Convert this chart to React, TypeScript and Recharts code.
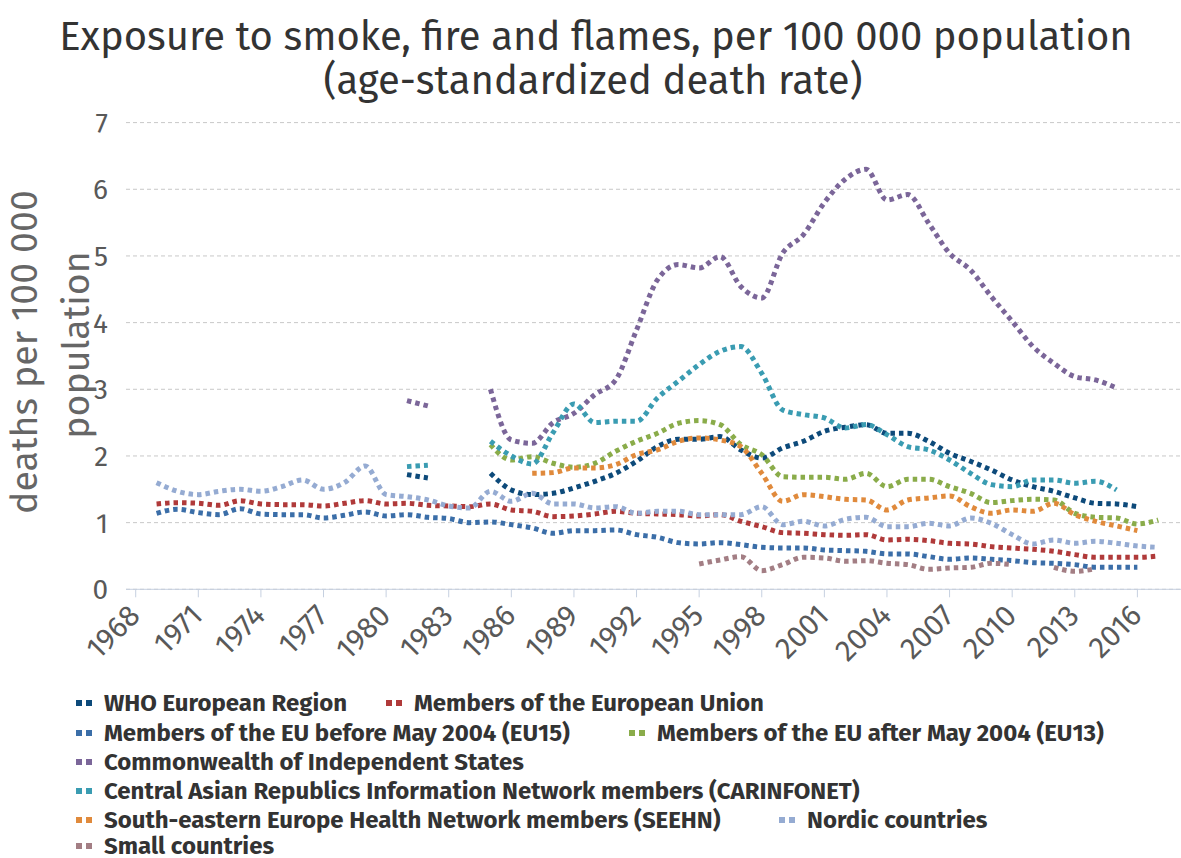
import React from "react";
import { LineChart, Line, XAxis, YAxis, CartesianGrid } from "recharts";

// years 1969..2017
const years = [
  1969, 1970, 1971, 1972, 1973, 1974, 1975, 1976, 1977, 1978, 1979, 1980,
  1981, 1982, 1983, 1984, 1985, 1986, 1987, 1988, 1989, 1990, 1991, 1992,
  1993, 1994, 1995, 1996, 1997, 1998, 1999, 2000, 2001, 2002, 2003, 2004,
  2005, 2006, 2007, 2008, 2009, 2010, 2011, 2012, 2013, 2014, 2015, 2016, 2017,
];

const xTicks = [1968, 1971, 1974, 1977, 1980, 1983, 1986, 1989, 1992, 1995, 1998, 2001, 2004, 2007, 2010, 2013, 2016];
const yTicks = [0, 1, 2, 3, 4, 5, 6, 7];

const _ = null;

const who = [
  _, _, _, _, _, _, _, _, _, _, _, _,
  1.72, 1.67, _, _,
  1.74, 1.49, 1.42, 1.44, 1.52, 1.62, 1.74, 1.92, 2.14, 2.25, 2.25, 2.29, 2.09, 1.97, 2.12, 2.22,
  2.37, 2.43, 2.47, 2.34, 2.34, 2.22, 2.04, 1.92, 1.79, 1.64, 1.54, 1.47, 1.37, 1.29, 1.28, 1.24, _,
];

const eu = [
  1.28, 1.3, 1.29, 1.26, 1.33, 1.28, 1.27, 1.27, 1.25, 1.29, 1.33, 1.28, 1.29, 1.26, 1.25, 1.24, 1.28,
  1.19, 1.17, 1.09, 1.1, 1.13, 1.17, 1.14, 1.13, 1.12, 1.1, 1.12, 1.02, 0.94, 0.85, 0.84, 0.82,
  0.81, 0.82, 0.74, 0.75, 0.73, 0.69, 0.68, 0.64, 0.62, 0.6, 0.57, 0.52, 0.48, 0.48, 0.48, 0.5,
];

const eu15 = [
  1.14, 1.2, 1.15, 1.12, 1.21, 1.13, 1.12, 1.12, 1.07, 1.11, 1.16, 1.1, 1.12, 1.08, 1.06, 1.0, 1.01,
  0.97, 0.92, 0.84, 0.88, 0.88, 0.89, 0.82, 0.78, 0.7, 0.68, 0.7, 0.67, 0.63, 0.62, 0.62, 0.59,
  0.58, 0.57, 0.53, 0.53, 0.49, 0.45, 0.47, 0.45, 0.43, 0.4, 0.39, 0.37, 0.33, 0.33, 0.33, _,
];

const eu13 = [
  _, _, _, _, _, _, _, _, _, _, _, _, _, _, _, _,
  2.17, 1.94, 1.99, 1.89, 1.83, 1.89, 2.07, 2.22, 2.34, 2.49, 2.53, 2.47, 2.17, 2.02, 1.69, 1.68,
  1.68, 1.65, 1.74, 1.54, 1.65, 1.65, 1.54, 1.44, 1.3, 1.33, 1.35, 1.34, 1.14, 1.08, 1.07, 0.98, 1.04,
];

const cis = [
  _, _, _, _, _, _, _, _, _, _, _, _,
  2.83, 2.75, _, _,
  3.0, 2.24, 2.19, 2.5, 2.64, 2.92, 3.14, 3.89, 4.64, 4.87, 4.82, 4.99, 4.54, 4.37, 5.04, 5.32,
  5.8, 6.15, 6.3, 5.84, 5.92, 5.49, 5.04, 4.79, 4.39, 4.02, 3.64, 3.39, 3.19, 3.14, 3.02, _, _,
];

const carinfonet = [
  _, _, _, _, _, _, _, _, _, _, _, _,
  1.84, 1.86, _, _,
  2.22, 2.0, 1.88, 2.35, 2.78, 2.5, 2.52, 2.52, 2.87, 3.12, 3.37, 3.57, 3.64, 3.24, 2.69, 2.62,
  2.57, 2.42, 2.47, 2.32, 2.14, 2.09, 1.94, 1.74, 1.57, 1.54, 1.64, 1.64, 1.59, 1.62, 1.49, _, _,
];

const seehn = [
  _, _, _, _, _, _, _, _, _, _, _, _, _, _, _, _, _, _,
  1.74, 1.75, 1.82, 1.82, 1.87, 2.02, 2.09, 2.22, 2.27, 2.24, 2.14, 1.74, 1.32, 1.42,
  1.39, 1.35, 1.34, 1.19, 1.34, 1.37, 1.4, 1.24, 1.14, 1.19, 1.17, 1.29, 1.12, 1.02, 0.95, 0.88, _,
];

const nordic = [
  1.6, 1.47, 1.42, 1.47, 1.5, 1.47, 1.54, 1.64, 1.5, 1.6, 1.85, 1.42, 1.39, 1.34, 1.25, 1.22, 1.47,
  1.32, 1.44, 1.28, 1.28, 1.22, 1.24, 1.14, 1.17, 1.17, 1.12, 1.12, 1.12, 1.24, 0.97, 1.02, 0.95,
  1.05, 1.08, 0.94, 0.94, 0.99, 0.95, 1.07, 0.99, 0.82, 0.68, 0.74, 0.69, 0.72, 0.69, 0.65, 0.63,
];

const small = [
  _, _, _, _, _, _, _, _, _, _, _, _, _, _, _, _, _, _, _, _, _, _, _, _, _, _,
  0.38, 0.44, 0.49, 0.28, 0.37, 0.48, 0.47, 0.42, 0.43, 0.39, 0.37, 0.3, 0.32, 0.33, 0.39, 0.37,
  _, 0.33, 0.27, 0.31, _, _, _,
];

const series = [
  { key: "who", name: "WHO European Region", color: "#0d4a7a", values: who },
  { key: "eu", name: "Members of the European Union", color: "#b03a3a", values: eu },
  { key: "eu15", name: "Members of the EU before May 2004 (EU15)", color: "#3b6ea8", values: eu15 },
  { key: "eu13", name: "Members of the EU after May 2004 (EU13)", color: "#8aac4a", values: eu13 },
  { key: "cis", name: "Commonwealth of Independent States", color: "#7b6699", values: cis },
  { key: "carinfonet", name: "Central Asian Republics Information Network members (CARINFONET)", color: "#3a9cb2", values: carinfonet },
  { key: "seehn", name: "South-eastern Europe Health Network members (SEEHN)", color: "#e08a3c", values: seehn },
  { key: "nordic", name: "Nordic countries", color: "#95abd2", values: nordic },
  { key: "small", name: "Small countries", color: "#a37e84", values: small },
];

const data = years.map((year, i) => {
  const row: Record<string, number | null> = { year };
  series.forEach((s) => {
    row[s.key] = s.values[i];
  });
  return row;
});

// legend placement (left x, top y) per series
const legendPos: Record<string, [number, number]> = {
  who: [75, 692],
  eu: [385, 692],
  eu15: [75, 722],
  eu13: [628, 722],
  cis: [75, 751],
  carinfonet: [75, 780],
  seehn: [75, 809],
  nordic: [778, 809],
  small: [75, 835],
};

const FONT = '"Fira Sans", "Open Sans", sans-serif';

const XTick = (props: any) => {
  const { x, y, payload } = props;
  const ax = x + 6;
  const ay = y + 18;
  return (
    <text
      x={ax}
      y={ay}
      transform={`rotate(-45, ${ax}, ${ay})`}
      textAnchor="end"
      fontSize={30}
      fill="#595959"
      fontFamily={FONT}
    >
      {payload.value}
    </text>
  );
};

export default function App() {
  return (
    <div style={{ position: "absolute", left: 0, top: 0, width: 1181, height: 858, background: "#fff", overflow: "hidden" }}>
      <LineChart
        width={1181}
        height={680}
        data={data}
        margin={{ top: 122.6, right: 0, bottom: 0, left: 0 }}
      >
        <CartesianGrid vertical={false} stroke="#c8c8c8" strokeDasharray="4 3" />
        <XAxis
          dataKey="year"
          type="number"
          domain={[1967.535, 2018.09]}
          allowDataOverflow
          ticks={xTicks}
          interval={0}
          height={90.7}
          tickSize={8}
          stroke="#c6d0e0"
          tick={<XTick />}
        />
        <YAxis
          width={126}
          domain={[0, 7]}
          ticks={yTicks}
          axisLine={false}
          tickLine={false}
          tickMargin={12}
          tick={{ fontSize: 28, fill: "#595959", fontFamily: FONT }}
        />
        {series.map((s) => (
          <Line
            key={s.key}
            dataKey={s.key}
            name={s.name}
            type="monotone"
            stroke={s.color}
            strokeWidth={5}
            strokeDasharray="4.5 4"
            dot={false}
            activeDot={false}
            isAnimationActive={false}
          />
        ))}
      </LineChart>

      <svg
        width={1181}
        height={858}
        style={{ position: "absolute", left: 0, top: 0, pointerEvents: "none" }}
      >
        <g fontFamily={FONT} fill="#333">
          <text x={596} y={50} textAnchor="middle" fontSize={40}>
            Exposure to smoke, fire and flames, per 100 000 population
          </text>
          <text x={593} y={94} textAnchor="middle" fontSize={40}>
            (age-standardized death rate)
          </text>
        </g>
        <g fontFamily={FONT} fill="#666" fontSize={37.5}>
          <text x={37} y={352} textAnchor="middle" transform="rotate(-90, 37, 352)">
            deaths per 100 000
          </text>
          <text x={89} y={345} textAnchor="middle" transform="rotate(-90, 89, 345)">
            population
          </text>
        </g>
      </svg>

      {series.map((s) => {
        const [lx, ly] = legendPos[s.key];
        return (
          <div
            key={s.key}
            style={{
              position: "absolute",
              left: lx,
              top: ly,
              display: "flex",
              alignItems: "center",
              fontFamily: '"Fira Sans", Roboto, sans-serif',
              fontWeight: 700,
              fontSize: 24,
              color: "#333",
              whiteSpace: "nowrap",
              lineHeight: "22px",
            }}
          >
            <svg width={22} height={8} style={{ marginRight: 7 }}>
              <line x1={1} y1={4} x2={21} y2={4} stroke={s.color} strokeWidth={6} strokeDasharray="6 4" />
            </svg>
            {s.name}
          </div>
        );
      })}
    </div>
  );
}
